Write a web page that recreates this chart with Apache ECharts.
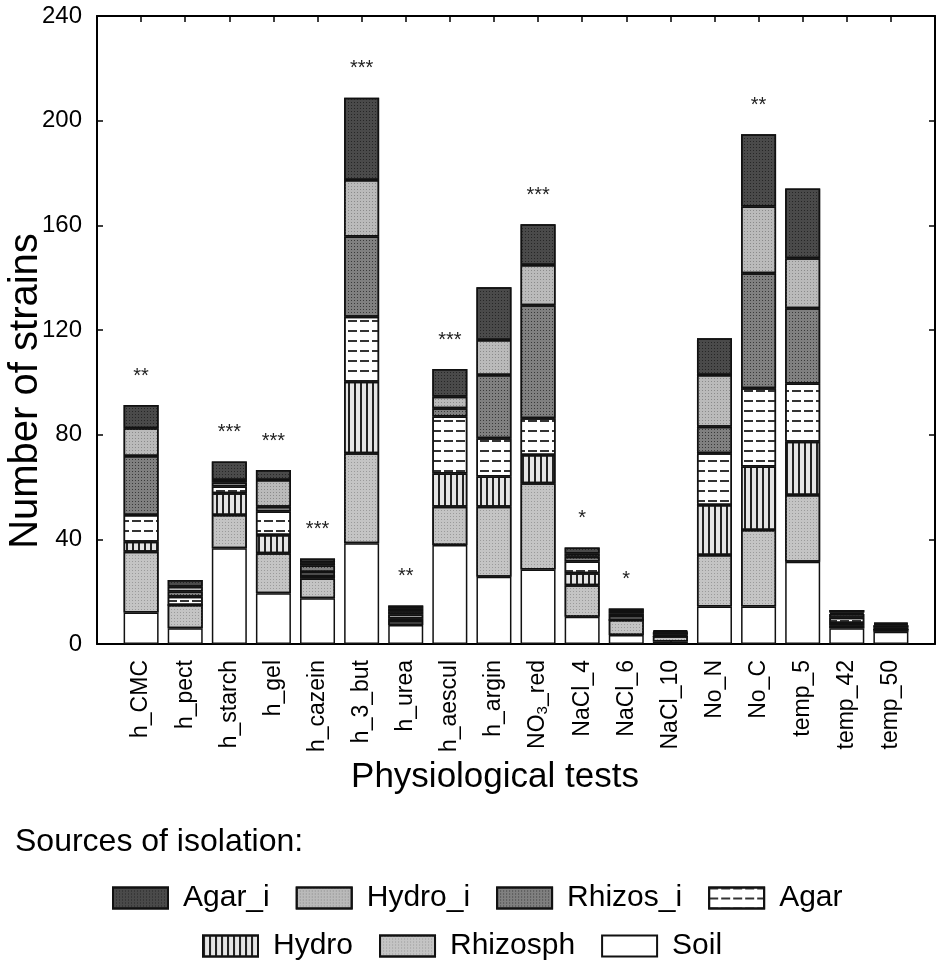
<!DOCTYPE html>
<html>
<head>
<meta charset="utf-8">
<script src="https://cdn.jsdelivr.net/npm/echarts@6/dist/echarts.min.js"></script>
<style>
  html, body { margin: 0; padding: 0; background: #fff; }
  #chart { width: 940px; height: 971px; }
</style>
</head>
<body>
<div id="chart"></div>
<script>
// physiological tests (x categories)
const categories = ['h_CMC', 'h_pect', 'h_starch', 'h_gel', 'h_cazein', 'h_3_but', 'h_urea',
  'h_aescul', 'h_argin', 'NO3_red', 'NaCl_4', 'NaCl_6', 'NaCl_10', 'No_N', 'No_C',
  'temp_5', 'temp_42', 'temp_50'];

// number of strains per source, stacked bottom -> top
const soil     = [12, 6, 36.6, 19.4, 17.5, 38.5, 7.3, 37.8, 25.7, 28.5, 10.4, 3.4, 1, 14.3, 14.3, 31.4, 6, 4.7];
const rhizosph = [23.3, 8.9, 12.7, 15.3, 7.5, 34.4, 1.5, 14.7, 26.8, 32.9, 12.1, 5.8, 2, 19.7, 29.3, 25.5, 1, 1];
const hydro    = [3.8, 0, 8.3, 7, 1, 27.3, 1, 12.7, 11.5, 10.8, 4.5, 0, 0, 19.1, 24.2, 20.4, 1, 0];
const agar     = [10.2, 3.2, 2.6, 8.9, 1.5, 24.9, 1.5, 21.7, 14.6, 14.1, 4.5, 1.5, 0.5, 19.8, 29.9, 22.3, 2, 0.5];
const rhizosI  = [22.5, 2, 1.5, 1.9, 2.5, 30.6, 1.2, 3.2, 24.2, 43.2, 1.8, 1, 1, 10.1, 44, 28.7, 1.5, 1];
const hydroI   = [10.7, 1.8, 1, 10.2, 1.2, 21.6, 1.2, 4.4, 13.4, 15.3, 1.3, 0.9, 0.3, 19.8, 25.5, 19.1, 0.5, 0.5];
const agarI    = [8.8, 2.6, 7, 3.8, 1.5, 31.5, 1, 10.6, 20.1, 15.6, 2.3, 1, 0.5, 14, 27.6, 26.7, 1, 0.5];

// significance marks above the bars
const signif = ['**', '', '***', '***', '***', '***', '**', '***', '', '***', '*', '*', '', '', '**', '', '', ''];

// y-axis ticks
const yTicks = [0, 40, 80, 120, 160, 200, 240];

const chart = echarts.init(document.getElementById('chart'));
const FONT = '"Liberation Sans", Arial, sans-serif';

// fill + pattern per source
const styles = {
  Soil:     { color: '#ffffff' },
  Rhizosph: { color: '#c4c4c4', decal: { symbol: 'rect', symbolSize: 1, dashArrayX: [1, 2], dashArrayY: [1, 2], color: '#9a9a9a' } },
  Hydro:    { color: '#e4e4e4', decal: { symbol: 'rect', symbolSize: 1, dashArrayX: [1.5, 4], dashArrayY: [10, 0], color: '#222' } },
  Agar:     { color: '#ffffff', decal: { symbol: 'rect', symbolSize: 1, dashArrayX: [9, 3], dashArrayY: [1.5, 8], color: '#333' } },
  Rhizos_i: { color: '#808080', decal: { symbol: 'rect', symbolSize: 1, dashArrayX: [1, 2], dashArrayY: [1, 2], color: '#3a3a3a' } },
  Hydro_i:  { color: '#bababa', decal: { symbol: 'rect', symbolSize: 1, dashArrayX: [1, 2], dashArrayY: [1, 2], color: '#8a8a8a' } },
  Agar_i:   { color: '#4a4a4a', decal: { symbol: 'rect', symbolSize: 1, dashArrayX: [1, 2], dashArrayY: [1, 2], color: '#262626' } }
};

const seriesData = [
  ['Soil', soil], ['Rhizosph', rhizosph], ['Hydro', hydro], ['Agar', agar],
  ['Rhizos_i', rhizosI], ['Hydro_i', hydroI], ['Agar_i', agarI]
];

const series = seriesData.map(([name, vals], k) => {
  const s = {
    name,
    type: 'bar',
    stack: 'all',
    xAxisIndex: 2,
    yAxisIndex: 2,
    barWidth: 35,
    data: vals,
    itemStyle: Object.assign({ borderColor: '#111', borderWidth: 1.5 }, styles[name])
  };
  if (k === seriesData.length - 1) {
    s.label = {
      show: true,
      position: 'top',
      distance: 19,
      fontSize: 20,
      fontFamily: FONT,
      color: '#222',
      formatter: p => signif[p.dataIndex]
    };
  }
  return s;
});

const axisLine = { onZero: false, lineStyle: { color: '#000', width: 2 } };
const tick = { inside: true, length: 6, lineStyle: { color: '#000', width: 1.5 } };
const n = categories.length;
// frame grid spans the full box; the bar grid is inset so that band centres
// land on the frame's integer ticks (-1 .. n)
const frameL = 97, frameR = 5, step = (940 - frameL - frameR) / (n + 1);
const barL = frameL + step / 2, barR = frameR + step / 2;

chart.setOption({
  backgroundColor: '#fff',
  animation: false,
  textStyle: { fontFamily: FONT, color: '#000' },
  grid: [
    { left: frameL, right: frameR, top: 16, bottom: 327, outerBoundsMode: 'none', containLabel: false },
    { left: barL, right: barR, top: 16, bottom: 327, outerBoundsMode: 'none', containLabel: false }
  ],
  title: {
    text: 'Sources of isolation:',
    left: 10, top: 821,
    textStyle: { fontSize: 32, fontWeight: 'normal', fontFamily: FONT, color: '#000' }
  },
  // y-axis title, placed by hand (sits below the axis middle in the original)
  graphic: [{
    type: 'text',
    x: 26, y: 391,
    rotation: Math.PI / 2,
    style: {
      text: 'Number of strains',
      font: '40px "Liberation Sans", Arial, sans-serif',
      fill: '#000',
      align: 'center', verticalAlign: 'middle',
      textAlign: 'center', textVerticalAlign: 'middle'
    }
  }],
  legend: [
    {
      data: ['Agar_i', 'Hydro_i', 'Rhizos_i', 'Agar'],
      left: 107, top: 878,
      icon: 'rect', itemWidth: 55, itemHeight: 21, itemGap: 26,
      textStyle: { fontSize: 30, fontFamily: FONT, color: '#000', padding: [0, 0, 0, 10] }
    },
    {
      data: ['Hydro', 'Rhizosph', 'Soil'],
      left: 197, top: 926,
      icon: 'rect', itemWidth: 55, itemHeight: 21, itemGap: 26,
      textStyle: { fontSize: 30, fontFamily: FONT, color: '#000', padding: [0, 0, 0, 10] }
    }
  ],
  xAxis: [
    {
      gridIndex: 0, type: 'value', min: -1, max: n, interval: 1,
      axisLine, axisTick: tick, axisLabel: { show: false }, splitLine: { show: false }
    },
    {
      gridIndex: 0, type: 'value', position: 'top', min: -1, max: n, interval: 1,
      axisLine, axisTick: tick, axisLabel: { show: false }, splitLine: { show: false }
    },
    {
      gridIndex: 1, type: 'category', data: categories,
      axisLine: { show: false }, axisTick: { show: false },
      name: 'Physiological tests', nameLocation: 'middle', nameGap: 106,
      nameTextStyle: { fontSize: 35, fontFamily: FONT, color: '#000', padding: [0, 42, 0, 0] },
      axisLabel: {
        rotate: 90, margin: 16, fontSize: 23, fontFamily: FONT, color: '#000', interval: 0,
        formatter: c => c === 'NO3_red' ? 'NO{sub|3}_red' : c,
        rich: { sub: { fontSize: 15, fontFamily: FONT, color: '#000', padding: [9, 0, 0, 0] } }
      }
    }
  ],
  yAxis: [
    {
      gridIndex: 0, type: 'value', min: yTicks[0], max: yTicks[yTicks.length - 1], interval: yTicks[1] - yTicks[0],
      axisLine, axisTick: tick, splitLine: { show: false },
      axisLabel: { fontSize: 24, fontFamily: FONT, color: '#000', margin: 15 }
    },
    {
      gridIndex: 0, type: 'value', position: 'right', min: yTicks[0], max: yTicks[yTicks.length - 1], interval: yTicks[1] - yTicks[0],
      axisLine, axisTick: tick, axisLabel: { show: false }, splitLine: { show: false }
    },
    {
      gridIndex: 1, type: 'value', min: yTicks[0], max: yTicks[yTicks.length - 1],
      show: false
    }
  ],
  series
});
</script>
</body>
</html>
